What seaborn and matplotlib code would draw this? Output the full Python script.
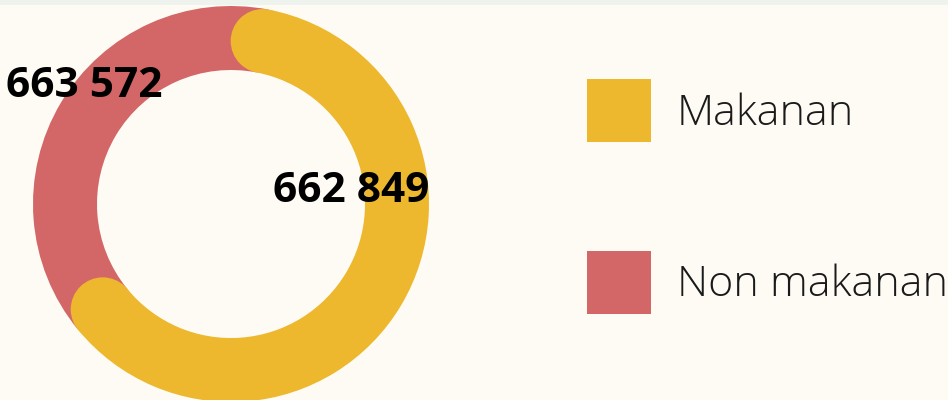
import numpy as np
import matplotlib.pyplot as plt
import seaborn as sns
from matplotlib.patches import Circle, Rectangle

# Data
categories = ['Makanan', 'Non makanan']
values = [662849, 663572]
# share of the ring each arc covers, as drawn in the chart (%)
arc_share = [61, 39]
colors = ['#EDB82E', '#D36767']

# style
sns.set_theme(style='white')
plt.rcParams['font.family'] = ['Open Sans', 'DejaVu Sans']
bg = '#FDFBF4'

fig = plt.figure(figsize=(9.48, 4.0), dpi=100, facecolor=bg)
ax = fig.add_axes([0, 0, 1, 1])
ax.set_facecolor(bg)

# donut, in pixel units
cx, cy, r_out, ring = 231, 196, 198, 64
wedges, _ = ax.pie(arc_share, colors=colors, startangle=79, counterclock=False,
                   radius=r_out, center=(cx, cy), frame=True,
                   wedgeprops=dict(width=ring, linewidth=0))

# rounded ends on the Makanan arc
r_mid = r_out - ring / 2
for th in (wedges[0].theta1, wedges[0].theta2):
    t = np.deg2rad(th)
    ax.add_patch(Circle((cx + r_mid * np.cos(t), cy + r_mid * np.sin(t)), ring / 2,
                        facecolor=colors[0], edgecolor='none', zorder=3))

# value labels
label_pos = [(351, 198), (84, 303)]
for v, (x, y) in zip(values, label_pos):
    ax.text(x, y, f'{v:,}'.replace(',', ' '), ha='center', va='baseline',
            fontsize=30.5, fontweight='bold', color='black', zorder=5)

# thin band on top
ax.add_patch(Rectangle((0, 395), 948, 5, facecolor='#EEF3EE', edgecolor='none', zorder=6))

ax.set_xlim(0, 948)
ax.set_ylim(0, 400)
ax.axis('off')

leg = ax.legend(wedges, categories, loc='upper left',
                bbox_to_anchor=(587 / 948, 1 - 79 / 400), bbox_transform=fig.transFigure,
                frameon=False, borderpad=0, borderaxespad=0,
                handlelength=1.486, handleheight=1.89, handletextpad=0.6,
                labelspacing=2.52,
                prop={'family': ['Open Sans', 'DejaVu Sans'], 'weight': 'light', 'size': 31})
for t in leg.get_texts():
    t.set_color('#1a1a1a')

fig.savefig('out.png', dpi=100, facecolor=bg)
